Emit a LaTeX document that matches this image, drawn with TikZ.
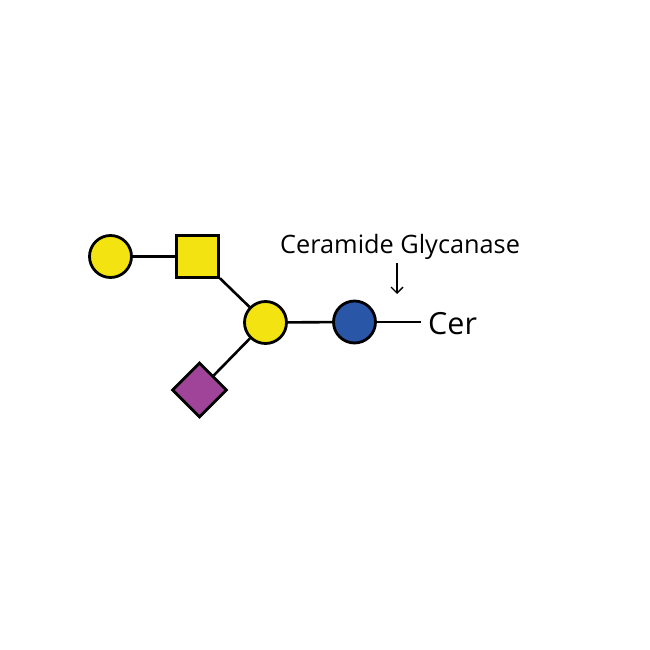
\documentclass[tikz,border=0pt]{standalone}
\usepackage{fontspec}
\setmainfont{Open Sans}
\usetikzlibrary{shapes.geometric,arrows.meta}
\definecolor{glyyellow}{HTML}{F2E311}
\definecolor{glyblue}{HTML}{2A56A8}
\definecolor{glypurple}{HTML}{A0449A}
\begin{document}
\begin{tikzpicture}[x=1pt,y=-1pt,
  bond/.style={line width=2.6pt},
  sugar/.style={draw=black,line width=2.8pt,inner sep=0pt},
  circ/.style={sugar,circle,minimum size=42pt},
  sq/.style={sugar,rectangle,minimum size=42pt},
  dia/.style={sugar,diamond,minimum size=55pt},
  lbl/.style={inner sep=0pt,anchor=base west}]
\useasboundingbox (0,0) rectangle (650,650);
\node[circ,fill=glyyellow] (gal1) at (110.5,256.5) {};
\node[sq,fill=glyyellow] (galnac) at (197.5,256.5) {};
\node[circ,fill=glyyellow] (gal2) at (265.5,322.5) {};
\node[dia,fill=glypurple] (neu) at (199.5,390) {};
\node[circ,fill=glyblue] (glc) at (354.5,322) {};
\coordinate (cerend) at (421,322);
\draw[bond] (gal1) -- (galnac);
\draw[bond] (galnac) -- (gal2);
\draw[bond] (neu) -- (gal2);
\draw[bond] (gal2) -- (glc);
\draw[bond] (glc) -- (cerend);
\node[lbl,font=\fontsize{30.5}{36}\selectfont] (cer) at (428,334.5) {Cer};
\node[lbl,font=\fontsize{25.3}{30}\selectfont] (enz) at (280,253) {Ceramide Glycanase};
\coordinate (atop) at (397,263);
\coordinate (abot) at (397,294);
\draw[line width=1.4pt,-{Straight Barb[length=6pt,width=12pt,line width=1.4pt]}] (atop) -- (abot);
\end{tikzpicture}
\end{document}
